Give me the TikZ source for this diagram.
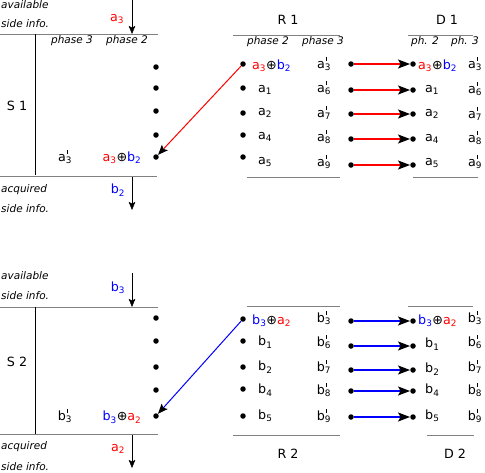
\documentclass[tikz,border=0pt]{standalone}
\usepackage{fontspec}
\setmainfont{DejaVu Sans}
\usetikzlibrary{arrows.meta}
\newcommand{\cred}[1]{\textcolor{red}{#1}}
\newcommand{\cblue}[1]{\textcolor{blue}{#1}}
\newcommand{\prm}[2]{#1\rlap{\kern1.3pt\rule[7.8pt]{0.7pt}{3.5pt}}\textsubscript{#2}}
\begin{document}
\begin{tikzpicture}[x=1pt,y=-1pt,
dot/.style={circle,fill,inner sep=0pt,minimum size=5.5pt},
sep/.style={gray,line width=1pt},
txt/.style={font=\fontsize{12.7}{15}\selectfont,inner sep=0pt},
lbl/.style={font=\fontsize{10.5}{12}\selectfont\itshape,inner sep=0pt},
down/.style={-{Stealth[length=8pt,width=6.5pt,inset=1.5pt]}},
arw/.style={-{Stealth[black,length=12pt,width=9pt,inset=2.5pt]},line width=1.3pt},
diag/.style={-{Stealth[black,length=10pt,width=8pt,inset=2pt]},line width=1pt}
]
%\draw[help lines](0,0)grid[step=20](485,472);
\useasboundingbox (0,0) rectangle (485,472);

% S 1
\node[lbl,anchor=west](av1)at(1,5){available};
\node[lbl,anchor=west](si1)at(1,24){side info.};
\coordinate(in1)at(132,0);
\coordinate(in1e)at(132,34);
\draw[down](in1)--(in1e);
\node[txt](ia1)at(117,19){\cred{a\textsubscript{3}}};
\draw[sep](0,34)--(158,34);
\draw(35,34)--(35,175);
\node[lbl](ph31)at(72,41){phase 3};
\node[lbl](ph21)at(127,41){phase 2};
\node[txt](S1)at(17,106){S 1};
\foreach \y [count=\k] in {67,88,111,135,157}
  \node[dot](s1d\k)at(156,\y){};
\node[txt](s1p)at(65,157){\prm{a}{3}};
\node[txt](s1x)at(122,158){\cred{a\textsubscript{3}}⊕\cblue{b\textsubscript{2}}};
\draw[sep](0,176)--(157,176);
\coordinate(out1)at(132,177);
\coordinate(out1e)at(132,210);
\draw[down](out1)--(out1e);
\node[txt](ob1)at(118,190){\cblue{b\textsubscript{2}}};
\node[lbl,anchor=west](aq1)at(1,190){acquired};
\node[lbl,anchor=west](so1)at(1,209){side info.};

% R 1
\node[txt](R1)at(288,20){R 1};
\draw[sep](233,35)--(340,35);
\node[lbl](rph21)at(268,42){phase 2};
\node[lbl](rph31)at(323,42){phase 3};
\foreach \y [count=\k] in {64,88,113,135,157}
  \node[dot](r1d\k)at(243,\y){};
\node[txt,anchor=west](r1x)at(252,66){\cred{a\textsubscript{3}}⊕\cblue{b\textsubscript{2}}};
\foreach \t/\y in {1/90,2/113,4/137,5/162}
  \node[txt,anchor=west](r1a\t)at(258,\y){a\textsubscript{\t}};
\foreach \t/\y in {3/64,6/88,7/113,8/137,9/162}
  \node[txt](r1p\t)at(324,\y){\prm{a}{\t}};
\draw[sep](247,177)--(340,177);
\draw[diag,red](r1d1)--(s1d5);

% R 1 -> D 1
\foreach \y [count=\k] in {64,90,114,139,165}{
  \node[dot](r1o\k)at(351,\y){};
  \node[dot](d1i\k)at(413,\y){};
  \draw[arw,red](r1o\k)--(d1i\k);
}

% D 1
\node[txt](D1)at(447,20){D 1};
\draw[sep](408,35)--(473,35);
\node[lbl](dph21)at(425,42){ph. 2};
\node[lbl](dph31)at(465,42){ph. 3};
\node[txt,anchor=west](d1x)at(418,66){\cred{a\textsubscript{3}}⊕\cblue{b\textsubscript{2}}};
\foreach \t/\y in {1/90,2/114,4/139,5/163}
  \node[txt,anchor=west](d1a\t)at(425,\y){a\textsubscript{\t}};
\foreach \t/\y in {3/64,6/89,7/114,8/138,9/162}
  \node[txt](d1p\t)at(475,\y){\prm{a}{\t}};
\draw[sep](413,177)--(478,177);

% S 2
\node[lbl,anchor=west](av2)at(1,276){available};
\node[lbl,anchor=west](si2)at(1,296){side info.};
\coordinate(in2)at(132,273);
\coordinate(in2e)at(132,307);
\draw[down](in2)--(in2e);
\node[txt](ib2)at(118,288){\cblue{b\textsubscript{3}}};
\draw[sep](0,307)--(158,307);
\draw(35,307)--(35,434);
\node[txt](S2)at(17,362){S 2};
\foreach \y [count=\k] in {318,341,367,390,416}
  \node[dot](s2d\k)at(156,\y){};
\node[txt](s2p)at(65,416){\prm{b}{3}};
\node[txt](s2x)at(122,417){\cblue{b\textsubscript{3}}⊕\cred{a\textsubscript{2}}};
\draw[sep](0,434)--(158,434);
\coordinate(out2)at(132,435);
\coordinate(out2e)at(132,468);
\draw[down](out2)--(out2e);
\node[txt](oa2)at(118,449){\cred{a\textsubscript{2}}};
\node[lbl,anchor=west](aq2)at(1,447){acquired};
\node[lbl,anchor=west](so2)at(1,467){side info.};

% R 2
\draw[sep](247,306)--(340,306);
\foreach \y [count=\k] in {319,341,367,389,416}
  \node[dot](r2d\k)at(243,\y){};
\node[txt,anchor=west](r2x)at(252,321){\cblue{b\textsubscript{3}}⊕\cred{a\textsubscript{2}}};
\foreach \t/\y in {1/342,2/367,4/390,5/416}
  \node[txt,anchor=west](r2b\t)at(258,\y){b\textsubscript{\t}};
\foreach \t/\y in {3/318,6/342,7/367,8/390,9/416}
  \node[txt](r2p\t)at(324,\y){\prm{b}{\t}};
\draw[sep](233,435)--(340,435);
\node[txt](R2)at(288,454){R 2};
\draw[diag,blue](r2d1)--(s2d5);

% R 2 -> D 2
\foreach \y [count=\k] in {321,346,370,391,417}{
  \node[dot](r2o\k)at(351,\y){};
  \node[dot](d2i\k)at(413,\y){};
  \draw[arw,blue](r2o\k)--(d2i\k);
}

% D 2
\draw[sep](408,306)--(473,306);
\node[txt,anchor=west](d2x)at(418,321){\cblue{b\textsubscript{3}}⊕\cred{a\textsubscript{2}}};
\foreach \t/\y in {1/344,2/369,4/390,5/416}
  \node[txt,anchor=west](d2b\t)at(425,\y){b\textsubscript{\t}};
\foreach \t/\y in {3/318,6/342,7/367,8/390,9/416}
  \node[txt](d2p\t)at(475,\y){\prm{b}{\t}};
\draw[sep](427,435)--(474,435);
\node[txt](D2)at(455,454){D 2};
\end{tikzpicture}
\end{document}
